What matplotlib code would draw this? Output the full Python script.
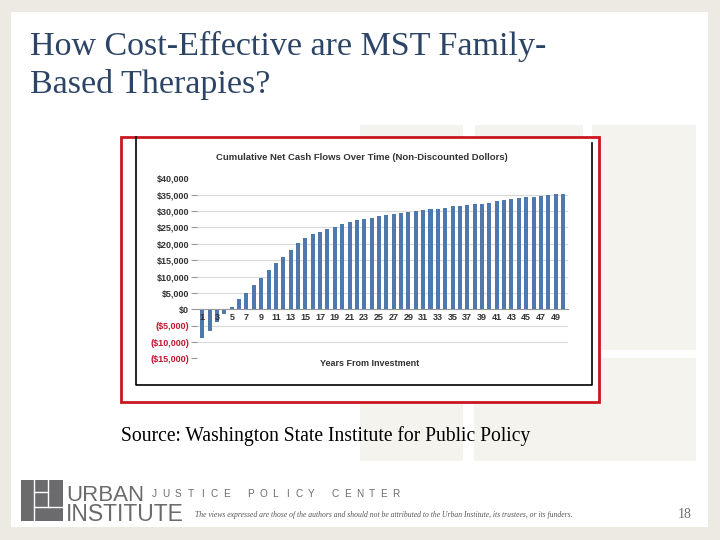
import matplotlib
matplotlib.use('Agg')
import matplotlib.pyplot as plt
from matplotlib.patches import Rectangle

# data
years = list(range(1, 51))
cash = [-8800, -6600, -3800, -1500, 800, 3000, 5100, 7400, 9600, 12000,
        14000, 16000, 18100, 20300, 21900, 22900, 23700, 24500, 25200, 26000,
        26700, 27200, 27700, 27900, 28400, 28800, 29000, 29400, 29700, 29900,
        30200, 30500, 30700, 31000, 31400, 31500, 31900, 32100, 32300, 32600,
        33000, 33300, 33600, 33900, 34200, 34300, 34600, 35000, 35100, 35300]
yticks = [-15000, -10000, -5000, 0, 5000, 10000, 15000, 20000, 25000, 30000, 35000, 40000]
ylabels = ['($15,000)', '($10,000)', '($5,000)', '$0', '$5,000', '$10,000', '$15,000',
           '$20,000', '$25,000', '$30,000', '$35,000', '$40,000']
xticks = list(range(1, 50, 2))

fig = plt.figure(figsize=(7.2, 5.4), dpi=100)
fig.patch.set_facecolor('#eceae2')

# slide layer in pixel coords
bg = fig.add_axes([0, 0, 1, 1])
bg.set_xlim(0, 720)
bg.set_ylim(540, 0)
bg.axis('off')
bg.add_patch(Rectangle((11, 12), 697, 515, facecolor='white', edgecolor='none'))
deco = '#f4f3ee'
for (x, y, w, h) in [(360, 125, 103, 225), (475, 125, 108, 225), (592, 125, 104, 225),
                     (360, 358, 103, 103), (474, 358, 222, 103)]:
    bg.add_patch(Rectangle((x, y), w, h, facecolor=deco, edgecolor='none'))

navy = '#2c4466'
bg.text(30, 55, 'How Cost-Effective are MST Family-', family='Liberation Serif',
        fontsize=24.5, color=navy, va='baseline')
bg.text(30, 93, 'Based Therapies?', family='Liberation Serif',
        fontsize=24.5, color=navy, va='baseline')

# picture frame
bg.add_patch(Rectangle((121, 137), 478, 265, facecolor='white', edgecolor='#c8171e', lw=2))
bg.plot([135.5, 135.5, 592, 592], [137, 385, 385, 143], color='black', lw=1.2)
bg.text(362, 157, 'Cumulative Net Cash Flows Over Time (Non-Discounted Dollors)',
        ha='center', va='center', fontsize=6.8, fontweight='bold', color='#333333',
        family='Liberation Sans')
bg.text(370, 364, 'Years From Investment', ha='center', va='center', fontsize=6.5,
        fontweight='bold', color='#333333', family='Liberation Sans')

bg.text(121, 441, 'Source: Washington State Institute for Public Policy',
        family='Liberation Serif', fontsize=14.1, color='black', va='baseline')

# footer logo
grey = '#6b6b6e'
bg.add_patch(Rectangle((21, 480), 42, 41, facecolor=grey, edgecolor='none'))
bg.plot([34, 34], [480, 521], color='white', lw=1)
bg.plot([34, 63], [507, 507], color='white', lw=1)
bg.plot([48, 48], [480, 507], color='white', lw=1)
bg.plot([34, 48], [492, 492], color='white', lw=1)
bg.text(66, 501, 'URBAN', family='Liberation Sans', fontsize=16, color=grey, va='baseline')
bg.text(66, 521, 'INSTITUTE', family='Liberation Sans', fontsize=16.5, color=grey, va='baseline')
for i, ch in enumerate('JUSTICE POLICY CENTER'):
    bg.text(154 + i * 12.1, 494, ch, family='Liberation Sans', fontsize=7.2,
            color=grey, ha='center', va='center')
bg.text(195, 515, 'The views expressed are those of the authors and should not be attributed '
        'to the Urban Institute, its trustees, or its funders.', family='Liberation Serif',
        style='italic', fontsize=5.5, color='#555555', va='center')
bg.text(685, 514, '18', family='Liberation Serif', fontsize=10, color=grey, ha='center', va='center')

# chart
ax = fig.add_axes([197.3 / 720, (540 - 358.4) / 540, (568 - 197.3) / 720, (358.4 - 178.3) / 540])
ax.set_facecolor('none')
ax.spines['bottom'].set_position(('data', 0))
ax.bar(years, cash, width=0.55, color='#4f78ad', zorder=2)
ax.set_xlim(0.32, 50.68)
ax.set_ylim(-15000, 40000)
ax.set_yticks(yticks)
ax.set_yticklabels(ylabels, fontsize=6.5, fontweight='bold', family='Liberation Sans')
for lab, v in zip(ax.get_yticklabels(), yticks):
    lab.set_color('#c0172f' if v < 0 else '#333333')
ax.set_xticks(xticks)
ax.set_xticklabels([str(x) for x in xticks], fontsize=6.5, fontweight='bold',
                   family='Liberation Sans', color='#333333')
ax.grid(axis='y', color='#d9d9d9', lw=0.8)
ax.set_axisbelow(True)
ax.xaxis.set_zorder(4)
ax.yaxis.get_gridlines()[-1].set_visible(False)
for s in ['top', 'right', 'left']:
    ax.spines[s].set_visible(False)
ax.spines['bottom'].set_color('#999999')
ax.tick_params(axis='x', length=0, pad=3)
ax.tick_params(axis='y', length=4, color='#999999', pad=2)
ax.yaxis.get_major_ticks()[-1].tick1line.set_visible(False)

plt.savefig('out.png', dpi=100, facecolor=fig.get_facecolor())
